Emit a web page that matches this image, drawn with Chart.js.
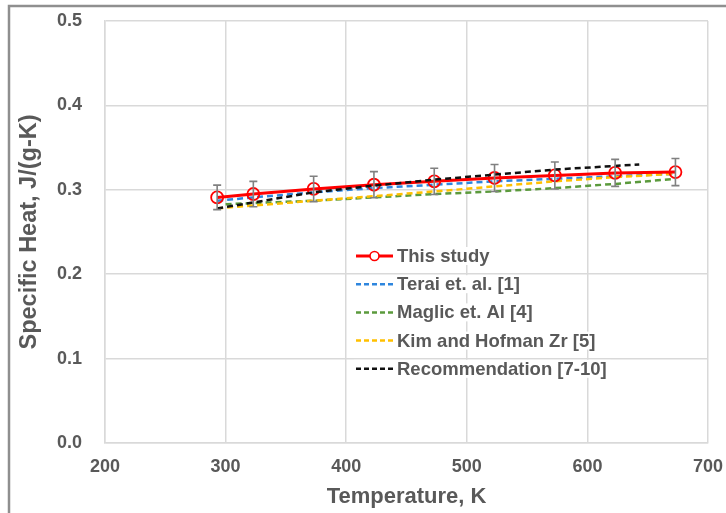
<!DOCTYPE html>
<html>
<head>
<meta charset="utf-8">
<script src="https://cdn.jsdelivr.net/npm/chart.js@4/dist/chart.umd.min.js"></script>
<style>
html,body{margin:0;padding:0;background:#fff;}
#wrap{position:relative;width:726px;height:513px;}
canvas{display:block;}
</style>
</head>
<body>
<div id="wrap"><canvas id="c" width="726" height="513"></canvas></div>
<script>
// ---- data ----
const seriesNames = ["This study", "Terai et. al. [1]", "Maglic et. Al [4]", "Kim and Hofman Zr [5]", "Recommendation [7-10]"];

const studyT   = [293, 323, 373, 423, 473, 523, 573, 623, 673];
const studyCp  = [0.291, 0.295, 0.301, 0.306, 0.310, 0.314, 0.317, 0.320, 0.321];
const studyErr = [0.0145, 0.015, 0.015, 0.0155, 0.0155, 0.016, 0.016, 0.016, 0.016];

const teraiT   = [293, 323, 373, 423, 473, 523, 573, 623, 673];
const teraiCp  = [0.287, 0.291, 0.297, 0.302, 0.306, 0.310, 0.313, 0.316, 0.319];

const maglicT  = [300, 373, 423, 473, 523, 573, 623, 673];
const maglicCp = [0.283, 0.287, 0.291, 0.295, 0.298, 0.302, 0.307, 0.313];

const kimT     = [293, 373, 473, 523, 573, 623, 673];
const kimCp    = [0.278, 0.287, 0.298, 0.304, 0.310, 0.315, 0.319];

const recT     = [293, 323, 373, 423, 473, 523, 573, 643];
const recCp    = [0.278, 0.285, 0.297, 0.305, 0.312, 0.318, 0.324, 0.330];

const xTicks = [200, 300, 400, 500, 600, 700];
const yTicks = [0.0, 0.1, 0.2, 0.3, 0.4, 0.5];

const xTitle = "Temperature, K";
const yTitle = "Specific Heat, J/(g-K)";

// ---- build ----
const pts = (xs, ys) => xs.map((x, i) => ({x: x, y: ys[i]}));
const TXT = '#595959';
const FONT = '"Liberation Sans", Arial, sans-serif';

const datasets = [
  {label: seriesNames[0], data: pts(studyT, studyCp), borderColor: '#ff0000', borderWidth: 3,
   pointRadius: 6, pointBorderWidth: 1.8, pointBorderColor: '#ff0000', pointBackgroundColor: 'rgba(255,255,255,0)',
   order: 1, errors: studyErr},
  {label: seriesNames[1], data: pts(teraiT, teraiCp), borderColor: '#2e86de', borderWidth: 2.5, borderDash: [6, 4], pointRadius: 0, order: 3},
  {label: seriesNames[2], data: pts(maglicT, maglicCp), borderColor: '#5b9a3c', borderWidth: 2.5, borderDash: [6, 4], pointRadius: 0, order: 4},
  {label: seriesNames[3], data: pts(kimT, kimCp), borderColor: '#ffc000', borderWidth: 2.5, borderDash: [6, 4], pointRadius: 0, order: 2},
  {label: seriesNames[4], data: pts(recT, recCp), borderColor: '#111111', borderWidth: 2.5, borderDash: [6, 4], pointRadius: 0, order: 0}
];

const framePlugin = {
  id: 'frame',
  beforeDraw(chart) {
    const ctx = chart.ctx;
    ctx.save();
    ctx.fillStyle = '#fff';
    ctx.fillRect(0, 0, chart.width, chart.height);
    ctx.strokeStyle = '#8f8f8f';
    ctx.lineWidth = 2.5;
    ctx.beginPath();
    ctx.moveTo(9, 513);
    ctx.lineTo(9, 6);
    ctx.lineTo(726, 6);
    ctx.stroke();
    ctx.restore();
  }
};

const errorBarPlugin = {
  id: 'errbars',
  afterDatasetsDraw(chart) {
    const ctx = chart.ctx;
    const xs = chart.scales.x, ys = chart.scales.y;
    chart.data.datasets.forEach(ds => {
      if (!ds.errors) return;
      ctx.save();
      ctx.strokeStyle = '#808080';
      ctx.lineWidth = 1.6;
      ds.data.forEach((p, i) => {
        const e = ds.errors[i];
        const px = xs.getPixelForValue(p.x);
        const y1 = ys.getPixelForValue(p.y + e);
        const y2 = ys.getPixelForValue(p.y - e);
        ctx.beginPath();
        ctx.moveTo(px, y1); ctx.lineTo(px, y2);
        ctx.moveTo(px - 4, y1); ctx.lineTo(px + 4, y1);
        ctx.moveTo(px - 4, y2); ctx.lineTo(px + 4, y2);
        ctx.stroke();
      });
      ctx.restore();
    });
  }
};

const legendPlugin = {
  id: 'boxLegend',
  afterDraw(chart) {
    const ctx = chart.ctx;
    const x0 = 356, x1 = 393, tx = 397, y0 = 256, dy = 28.2;
    ctx.save();
    ctx.font = 'bold 18.5px ' + FONT;
    ctx.textBaseline = 'middle';
    ctx.textAlign = 'left';
    chart.data.datasets.forEach((ds, i) => {
      const y = y0 + i * dy;
      ctx.fillStyle = '#fff';
      ctx.fillRect(x0 - 2, y - 9, ctx.measureText(ds.label).width + (tx - x0) + 6, 18);
      ctx.strokeStyle = ds.borderColor;
      ctx.lineWidth = ds.borderWidth;
      ctx.setLineDash(ds.borderDash ? [5, 3] : []);
      ctx.beginPath();
      ctx.moveTo(x0, y); ctx.lineTo(x1, y);
      ctx.stroke();
      ctx.setLineDash([]);
      if (ds.pointRadius) {
        ctx.lineWidth = 1.6;
        ctx.fillStyle = '#fff';
        ctx.beginPath();
        ctx.arc((x0 + x1) / 2, y, 4.5, 0, Math.PI * 2);
        ctx.fill();
        ctx.stroke();
      }
      ctx.fillStyle = TXT;
      ctx.fillText(ds.label, tx, y + 1);
    });
    ctx.restore();
  }
};

new Chart(document.getElementById('c'), {
  type: 'line',
  data: {datasets: datasets},
  plugins: [framePlugin, errorBarPlugin, legendPlugin],
  options: {
    responsive: false,
    animation: false,
    layout: {padding: {top: 21, right: 18, left: 0, bottom: 0}},
    plugins: {legend: {display: false}, tooltip: {enabled: false}},
    elements: {line: {tension: 0}},
    scales: {
      x: {
        type: 'linear', min: xTicks[0], max: xTicks[xTicks.length - 1],
        afterBuildTicks(s) { s.ticks = xTicks.map(v => ({value: v})); },
        afterFit(s) { s.height = 70; s.paddingLeft = 0; s.paddingRight = 0; },
        grid: {color: '#d9d9d9', lineWidth: 1.5, drawTicks: false},
        border: {color: '#d9d9d9', width: 1.5},
        ticks: {color: TXT, font: {family: FONT, size: 18, weight: 'bold'}, padding: 13, maxRotation: 0},
        title: {display: true, text: xTitle, color: TXT, font: {family: FONT, size: 22, weight: 'bold'}, padding: {top: 0, bottom: 3}}
      },
      y: {
        min: yTicks[0], max: yTicks[yTicks.length - 1],
        afterBuildTicks(s) { s.ticks = yTicks.map(v => ({value: v})); },
        afterFit(s) { s.width = 105; s.paddingTop = 0; s.paddingBottom = 0; },
        grid: {color: '#d9d9d9', lineWidth: 1.5, drawTicks: false},
        border: {color: '#d9d9d9', width: 1.5},
        ticks: {color: TXT, font: {family: FONT, size: 18, weight: 'bold'}, padding: 23, callback: v => v.toFixed(1)},
        title: {display: true, text: yTitle, color: TXT, font: {family: FONT, size: 23.5, weight: 'bold'}, padding: {top: 15, bottom: 0}}
      }
    }
  }
});
</script>
</body>
</html>
